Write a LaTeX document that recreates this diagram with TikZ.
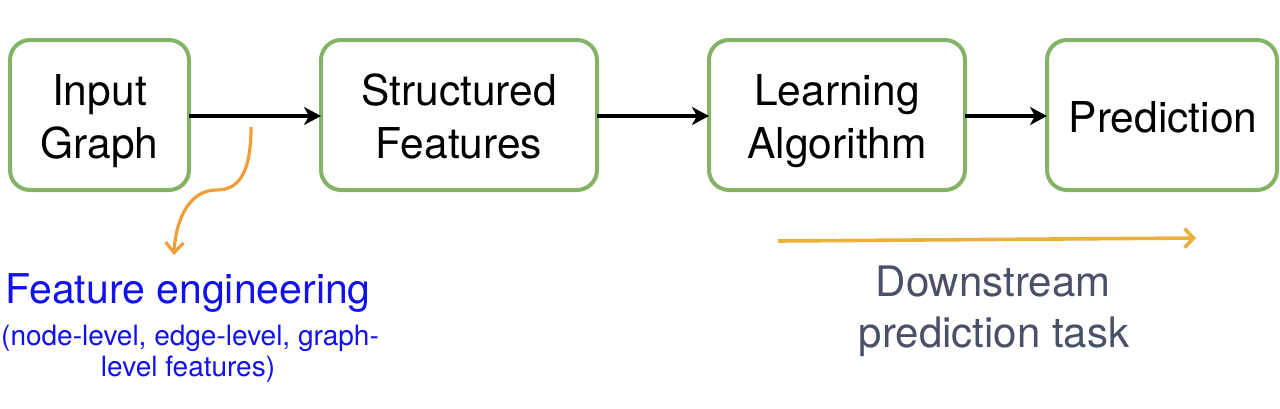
\documentclass[tikz,border=0pt]{standalone}
\usepackage{fontspec}
\setmainfont{TeX Gyre Heros}
\usetikzlibrary{arrows.meta}
\definecolor{boxgreen}{RGB}{130,179,102}
\definecolor{fblue}{RGB}{16,16,240}
\definecolor{curveorange}{RGB}{241,158,56}
\definecolor{goldline}{RGB}{233,176,59}
\definecolor{slate}{RGB}{74,80,104}
\begin{document}
\begin{tikzpicture}[x=1pt,y=-1pt,
  stagebox/.style={draw=boxgreen,line width=4pt,rounded corners=20pt,fill=white},
  flowarrow/.style={line width=4pt,-{Stealth[length=17pt,width=18pt,inset=5pt]}},
  bigtext/.style={font=\fontsize{42.5}{52}\selectfont,inner sep=0pt,anchor=base},
  fetext/.style={font=\fontsize{41}{46}\selectfont,text=fblue,inner sep=0pt,anchor=base},
  smalltext/.style={font=\fontsize{28}{32}\selectfont,text=fblue,inner sep=0pt,anchor=base},
  dstext/.style={font=\fontsize{42}{52}\selectfont,text=slate,inner sep=0pt,anchor=base}]
\useasboundingbox (0,0) rectangle (1280,408);
\fill[white] (0,0) rectangle (1280,408);
% boxes
\draw[stagebox] (10,40) rectangle (189,190);
\draw[stagebox] (321,40) rectangle (597,190);
\draw[stagebox] (709,40) rectangle (965,190);
\draw[stagebox] (1047,40) rectangle (1277,190);
\coordinate (b1e) at (189,116);
\coordinate (b2w) at (321,116);
\coordinate (b2e) at (597,116);
\coordinate (b3w) at (709,116);
\coordinate (b3e) at (965,116);
\coordinate (b4w) at (1047,116);
% box texts
\node[bigtext] (t1a) at (99.5,105) {Input};
\node[bigtext] (t1b) at (99.5,158) {Graph};
\node[bigtext] (t2a) at (459,105) {Structured};
\node[bigtext] (t2b) at (459,158) {Features};
\node[bigtext] (t3a) at (837,105) {Learning};
\node[bigtext] (t3b) at (837,158) {Algorithm};
\node[bigtext] (t4) at (1163,132) {Prediction};
% arrows
\draw[flowarrow] (b1e) -- (b2w);
\draw[flowarrow] (b2e) -- (b3w);
\draw[flowarrow] (b3e) -- (b4w);
% orange curve
\coordinate (cs) at (251,127);
\coordinate (ce) at (174,255);
\draw[curveorange,line width=3.2pt,-{Straight Barb[length=10pt,width=18pt]}]
  (cs) .. controls (251,178) and (236,190) .. (216,190)
  .. controls (192,190) and (176,215) .. (ce);
% feature engineering text
\node[fetext] (fe1) at (188,303) {Feature engineering};
\node[smalltext] (fe2) at (190,345) {(node-level, edge-level, graph-};
\node[smalltext] (fe3) at (188,376) {level features)};
% gold arrow
\coordinate (gs) at (778,241);
\coordinate (ge) at (1196,238);
\draw[goldline,line width=3.6pt,-{Straight Barb[length=9pt,width=19pt]}] (gs) -- (ge);
\node[dstext] (ds1) at (993,296) {Downstream};
\node[dstext] (ds2) at (994,347) {prediction task};
\end{tikzpicture}
\end{document}
